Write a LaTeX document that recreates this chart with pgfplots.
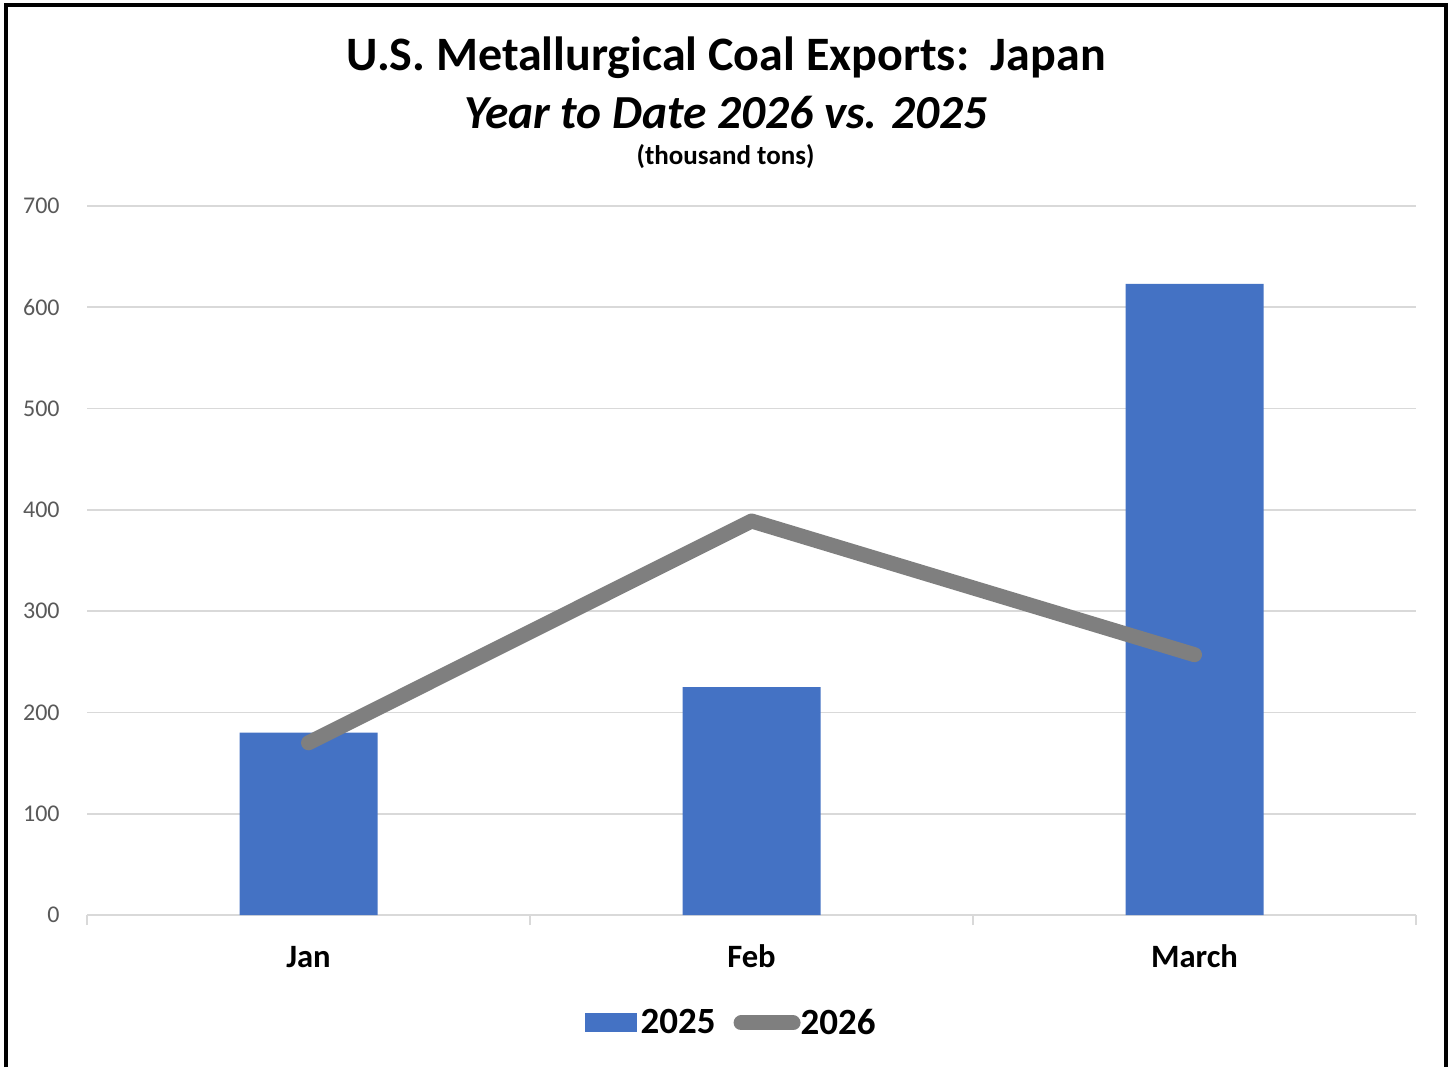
\documentclass[border=0pt]{standalone}
\usepackage{pgfplots}
\pgfplotsset{compat=1.18}
\usepackage{fontspec}
\setmainfont{Carlito}
\definecolor{barblue}{HTML}{4472C4}
\definecolor{linegray}{HTML}{7F7F7F}
\definecolor{gridgray}{HTML}{D9D9D9}
\definecolor{ticktext}{HTML}{595959}

\begin{document}
\begin{tikzpicture}
\useasboundingbox (0,0) rectangle (724.5pt,533.5pt);
\fill[white] (0,0) rectangle (724.5pt,533.5pt);
\begin{axis}[
  at={(43.5pt,76pt)}, anchor=south west,
  scale only axis, width=664.5pt, height=354.5pt,
  xmin=-0.5, xmax=2.5, ymin=0, ymax=700,
  ytick={0,100,...,700},
  xtick={0,1,2}, xticklabels={Jan,Feb,March},
  minor xtick={-0.5,0.5,1.5,2.5},
  major tick length=0pt, minor tick length=5pt, tick align=outside,
  axis x line*=bottom, axis y line*=left,
  y axis line style={draw=none},
  x axis line style={draw=gridgray, line width=1pt, -},
  minor x tick style={draw=gridgray, line width=1pt},
  ytick style={draw=none},
  ymajorgrids, grid style={draw=gridgray, line width=0.9pt},
  /pgf/number format/assume math mode=true,
  yticklabel style={font=\fontsize{12}{14}\selectfont, text=ticktext, anchor=east, inner sep=0pt, xshift=-13.5pt},
  xticklabel style={font=\fontsize{16.3}{19}\selectfont\bfseries, anchor=base, inner sep=0pt, yshift=-26pt},
  legend columns=-1,
  legend style={at={(axis description cs:0.4854,-0.1523)}, anchor=center, draw=none, fill=none,
    font=\fontsize{18.5}{21}\selectfont\bfseries,
    /tikz/every even column/.append style={column sep=7pt},
    /tikz/every odd column/.append style={column sep=0pt}},
]
\addplot[ybar, bar width=69pt, bar shift=0pt, fill=barblue, draw=none,
  legend image code/.code={\fill[barblue] (0pt,-4.75pt) rectangle (26pt,4.75pt);}]
  coordinates {(0,180) (1,225) (2,623)};
\addlegendentry{2025}
\addplot[linegray, line width=7.5pt, line cap=round, line join=round, mark=none,
  legend image code/.code={\draw[linegray, line width=7.5pt, line cap=round] (0pt,0pt) -- (26pt,0pt);}]
  coordinates {(0,170) (1,389) (2,257)};
\addlegendentry{\hspace{-2pt}2026}
\end{axis}
\node[anchor=base, font=\fontsize{24}{28}\selectfont\bfseries] at (363pt,498pt) {U.S. Metallurgical Coal Exports:\ \ Japan};
\node[anchor=base, font=\fontsize{23.7}{28}\selectfont\bfseries\itshape] at (363pt,469pt) {Year to Date 2026 vs. 2025};
\node[anchor=base, font=\fontsize{13.5}{16}\selectfont\bfseries] at (362.75pt,451pt) {(thousand tons)};
\draw[black, line width=2pt] (3pt,0pt) -- (3pt,531pt) -- (722.75pt,531pt) -- (722.75pt,0pt);
\end{tikzpicture}
\end{document}
